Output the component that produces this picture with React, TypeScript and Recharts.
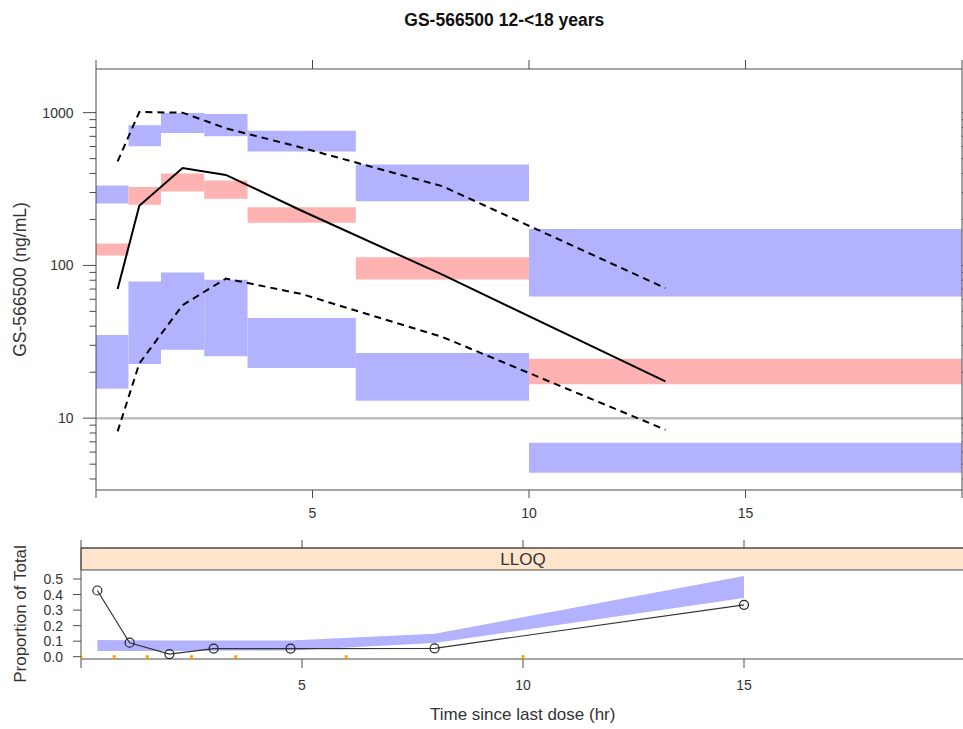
import React from 'react';
import {
  ComposedChart,
  Line,
  XAxis,
  YAxis,
  ReferenceArea,
  ReferenceLine,
  Area,
  Scatter,
} from 'recharts';

const FONT = '"Liberation Sans", Arial, Helvetica, sans-serif';
const AXIS = '#4a4a4a';
const TXT = '#333333';
const BLUE = '#B2B2FF';
const RED = '#FFB2B2';
const STRIP = '#FFE5CC';
const ORANGE = '#FFA500';

// ---------- Top panel: concentration VPC ----------
const binStart = [0, 0.75, 1.5, 2.5, 3.5, 6, 10];
const binEnd = [0.75, 1.5, 2.5, 3.5, 6, 10, 20];
// simulated 95% PI of the 95th percentile
const piUpperLo = [254, 602, 736, 700, 556, 263, 62.7];
const piUpperHi = [333, 826, 995, 980, 762, 457, 173];
// simulated 95% PI of the median
const piMedianLo = [116, 250, 305, 273, 190, 81, 16.7];
const piMedianHi = [139, 326, 399, 360, 240, 113, 24.5];
// simulated 95% PI of the 5th percentile
const piLowerLo = [15.6, 22.6, 28, 25.4, 21.3, 13, 4.4];
const piLowerHi = [35, 78.6, 90, 80.7, 45.3, 26.7, 6.9];

// observed percentiles
const obsTime = [0.5, 1, 2, 3, 4.75, 8, 13.15];
const obsP50 = [70, 246, 434, 391, 228, 87, 17.4];
const obsP95 = [480, 1010, 1000, 790, 590, 330, 71];
const obsP05 = [8.2, 22.8, 55, 82, 65, 34, 8.4];
const LLOQ = 10;

const logTicks = [
  4, 5, 6, 7, 8, 9, 10, 20, 30, 40, 50, 60, 70, 80, 90, 100, 200, 300, 400, 500,
  600, 700, 800, 900, 1000,
];
const logMajor = [10, 100, 1000];
const xTicks = [0, 5, 10, 15, 20];
const xLabelTicks = [5, 10, 15];

// ---------- Bottom panel: proportion BLQ ----------
const blqTime = [0.37, 1.1, 2.0, 3.0, 4.74, 8.0, 15.0];
const blqObs = [0.426, 0.09, 0.017, 0.052, 0.052, 0.054, 0.334];
const blqSimLo = [0.036, 0.036, 0.036, 0.038, 0.04, 0.088, 0.377];
const blqSimHi = [0.107, 0.106, 0.105, 0.105, 0.105, 0.147, 0.52];
const binEdges = [0, 0.75, 1.5, 2.5, 3.5, 6, 10];
const propTicks = [0, 0.1, 0.2, 0.3, 0.4, 0.5];
const stripLabel = 'LLOQ';

const obsData = obsTime.map((x, i) => ({ x, p50: obsP50[i], p95: obsP95[i], p05: obsP05[i] }));
const blqData = blqTime.map((x, i) => ({ x, obs: blqObs[i], band: [blqSimLo[i], blqSimHi[i]] }));
const markerData = binEdges.map((x) => ({ x, y: 0 }));

const bins = binStart.map((s, i) => ({ s, e: binEnd[i] }));

const fmtX = (v: number) => (xLabelTicks.indexOf(v) >= 0 ? String(v) : '');
const blank = () => '';

const LeftLogTick = (props: any) => {
  const { x, y, payload } = props;
  const v = payload.value;
  const major = logMajor.indexOf(v) >= 0;
  return (
    <g>
      <line x1={x} x2={x - (major ? 13 : 6.5)} y1={y} y2={y} stroke={AXIS} strokeWidth={1} />
      {major ? (
        <text x={x - 22.5} y={y} dy="0.36em" textAnchor="end" fontSize={14} fontFamily={FONT} fill={TXT}>
          {v}
        </text>
      ) : null}
    </g>
  );
};

const RightLogTick = (props: any) => {
  const { x, y, payload } = props;
  const major = logMajor.indexOf(payload.value) >= 0;
  return (
    <g>
      <line x1={x} x2={x + (major ? 13 : 6.5)} y1={y} y2={y} stroke={AXIS} strokeWidth={1} />
    </g>
  );
};

const OrangeTick = (props: any) => {
  const { cx, cy } = props;
  return <rect x={cx - 1.5} y={cy - 1.5} width={3} height={3.5} fill={ORANGE} />;
};

const tickStyle = { fill: TXT, fontSize: 14, fontFamily: FONT };

export default function App() {
  return (
    <div
      style={{
        position: 'absolute',
        left: 0,
        top: 0,
        width: 963,
        height: 729,
        overflow: 'hidden',
        background: '#ffffff',
        fontFamily: FONT,
      }}
    >
      <div style={{ position: 'absolute', left: 0, top: 0 }}>
        <ComposedChart width={966} height={530} data={obsData} margin={{ top: 60, right: 0, bottom: 0, left: 0 }}>
          <XAxis
            dataKey="x"
            type="number"
            domain={[0, 20]}
            allowDataOverflow
            ticks={xTicks}
            interval={0}
            tickSize={8}
            tickMargin={10}
            height={40}
            stroke={AXIS}
            tick={tickStyle}
            tickFormatter={fmtX}
          />
          <XAxis
            xAxisId="top"
            orientation="top"
            dataKey="x"
            type="number"
            domain={[0, 20]}
            allowDataOverflow
            ticks={xTicks}
            interval={0}
            tickSize={9}
            height={9}
            stroke={AXIS}
            tickFormatter={blank}
          />
          <YAxis
            type="number"
            scale="log"
            domain={[3.387, 1931]}
            allowDataOverflow
            ticks={logTicks}
            interval={0}
            width={96}
            tickSize={0}
            tickMargin={0}
            tickLine={false}
            stroke={AXIS}
            tick={LeftLogTick}
          />
          <YAxis
            yAxisId="right"
            orientation="right"
            type="number"
            scale="log"
            domain={[3.387, 1931]}
            allowDataOverflow
            ticks={logTicks}
            interval={0}
            width={4}
            tickSize={0}
            tickMargin={0}
            tickLine={false}
            stroke={AXIS}
            tick={RightLogTick}
          />
          {bins.map((b, i) => (
            <ReferenceArea
              key={'u' + i}
              x1={b.s}
              x2={b.e}
              y1={piUpperLo[i]}
              y2={piUpperHi[i]}
              fill={BLUE}
              fillOpacity={1}
              stroke="none"
            />
          ))}
          {bins.map((b, i) => (
            <ReferenceArea
              key={'m' + i}
              x1={b.s}
              x2={b.e}
              y1={piMedianLo[i]}
              y2={piMedianHi[i]}
              fill={RED}
              fillOpacity={1}
              stroke="none"
            />
          ))}
          {bins.map((b, i) => (
            <ReferenceArea
              key={'l' + i}
              x1={b.s}
              x2={b.e}
              y1={piLowerLo[i]}
              y2={piLowerHi[i]}
              fill={BLUE}
              fillOpacity={1}
              stroke="none"
            />
          ))}
          <ReferenceLine y={LLOQ} stroke="#C0C0C0" strokeWidth={2.5} />
          <Line type="linear" dataKey="p95" stroke="#000" strokeWidth={2} strokeDasharray="7 5" dot={false} isAnimationActive={false} />
          <Line type="linear" dataKey="p50" stroke="#000" strokeWidth={2} dot={false} isAnimationActive={false} />
          <Line type="linear" dataKey="p05" stroke="#000" strokeWidth={2} strokeDasharray="7 5" dot={false} isAnimationActive={false} />
        </ComposedChart>
      </div>

      <div style={{ position: 'absolute', left: 0, top: 530 }}>
        <ComposedChart width={965} height={199} data={blqData} margin={{ top: 10, right: 0, bottom: 0, left: 0 }}>
          <XAxis
            dataKey="x"
            type="number"
            domain={[0, 20]}
            allowDataOverflow
            ticks={xTicks}
            interval={0}
            tickSize={9}
            tickMargin={12}
            height={70}
            stroke={AXIS}
            tick={tickStyle}
            tickFormatter={fmtX}
          />
          <XAxis
            xAxisId="top"
            orientation="top"
            dataKey="x"
            type="number"
            domain={[0, 20]}
            allowDataOverflow
            ticks={xTicks}
            interval={0}
            tickSize={8}
            height={8}
            stroke={AXIS}
            tickFormatter={blank}
          />
          <YAxis
            type="number"
            domain={[-0.0148, 0.6995]}
            allowDataOverflow
            ticks={propTicks}
            interval={0}
            width={81}
            tickSize={8}
            tickMargin={10}
            stroke={AXIS}
            tick={tickStyle}
            tickFormatter={(v: number) => v.toFixed(1)}
          />
          <ReferenceArea
            y1={0.558}
            y2={0.6995}
            fill={STRIP}
            fillOpacity={1}
            stroke={AXIS}
            strokeWidth={1}
            label={{ value: stripLabel, position: 'center', fill: TXT, fontSize: 17, fontFamily: FONT }}
          />
          <Area type="linear" dataKey="band" fill={BLUE} fillOpacity={1} stroke="none" isAnimationActive={false} />
          <Line
            type="linear"
            dataKey="obs"
            stroke="#333"
            strokeWidth={1.2}
            dot={{ r: 4.5, stroke: '#222', strokeWidth: 1.2, fill: 'none' }}
            isAnimationActive={false}
          />
          <Scatter data={markerData} dataKey="y" fill={ORANGE} shape={OrangeTick} isAnimationActive={false} />
        </ComposedChart>
      </div>

      <svg
        width={963}
        height={729}
        style={{ position: 'absolute', left: 0, top: 0, pointerEvents: 'none' }}
      >
        <text x={504.3} y={26} textAnchor="middle" fontSize={17.5} fontWeight="bold" fontFamily={FONT} fill="#111">
          GS-566500 12-&lt;18 years
        </text>
        <text
          transform="translate(26,279.5) rotate(-90)"
          textAnchor="middle"
          fontSize={17.5}
          fontFamily={FONT}
          fill={TXT}
        >
          GS-566500 (ng/mL)
        </text>
        <text
          transform="translate(25.5,614) rotate(-90)"
          textAnchor="middle"
          fontSize={17}
          fontFamily={FONT}
          fill={TXT}
        >
          Proportion of Total
        </text>
        <text x={522.7} y={719.5} textAnchor="middle" fontSize={17} fontFamily={FONT} fill={TXT}>
          Time since last dose (hr)
        </text>
      </svg>
    </div>
  );
}
